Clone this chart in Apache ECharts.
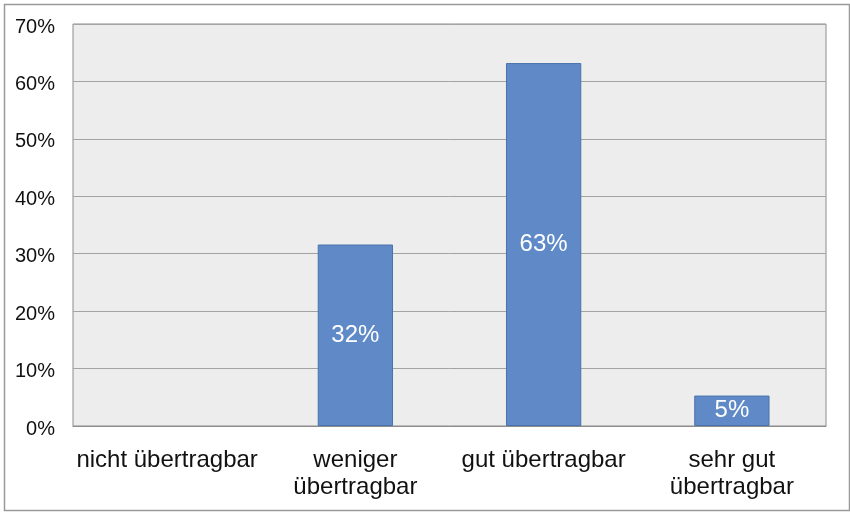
<!DOCTYPE html>
<html><head><meta charset="utf-8">
<script src="https://cdn.jsdelivr.net/npm/echarts@6/dist/echarts.min.js"></script>
<style>html,body{margin:0;padding:0;background:#fff}#c{width:850px;height:512px}</style>
</head><body><div id="c"></div>
<script>
const categories = ['nicht übertragbar', 'weniger\nübertragbar', 'gut übertragbar', 'sehr gut\nübertragbar'];
const values = [0, 31.6, 63.2, 5.3];
const yTicks = [0, 10, 20, 30, 40, 50, 60, 70];

const chart = echarts.init(document.getElementById('c'), null, {renderer: 'canvas'});
chart.setOption({
  animation: false,
  backgroundColor: '#fff',
  textStyle: {fontFamily: 'Liberation Sans, Arial, sans-serif'},
  graphic: [{
    type: 'rect', left: 2, top: 2, z: -1,
    shape: {width: 845, height: 506},
    style: {fill: 'none', stroke: '#9a9a9a', lineWidth: 1.5}
  }],
  grid: {left: 73, right: 24, top: 24, bottom: 86, show: true,
    backgroundColor: '#ededed', borderColor: '#8c8c8c', borderWidth: 1},
  xAxis: {
    type: 'category', data: categories,
    axisLine: {show: true, lineStyle: {color: '#8c8c8c'}},
    axisTick: {show: false},
    axisLabel: {color: '#111', fontSize: 24, lineHeight: 27, margin: 21, interval: 0}
  },
  yAxis: {
    type: 'value', min: yTicks[0], max: yTicks[yTicks.length - 1], interval: 10,
    axisLine: {show: false}, axisTick: {show: false},
    splitLine: {lineStyle: {color: '#a3a3a3', width: 1}},
    axisLabel: {color: '#111', fontSize: 20, margin: 18, verticalAlign: 'top', lineHeight: 6,
      formatter: v => v + '%'}
  },
  series: [{
    type: 'bar',
    data: values.map(v => v === 0 ? {value: v, itemStyle: {borderWidth: 0, opacity: 0}} : v),
    barWidth: '40%',
    itemStyle: {color: '#5f8ac7', borderColor: '#4a72aa', borderWidth: 1},
    label: {show: true, position: 'inside', color: '#fff', fontSize: 24,
      formatter: p => p.value > 0 ? Math.round(p.value) + '%' : ''}
  }]
});
</script></body></html>
